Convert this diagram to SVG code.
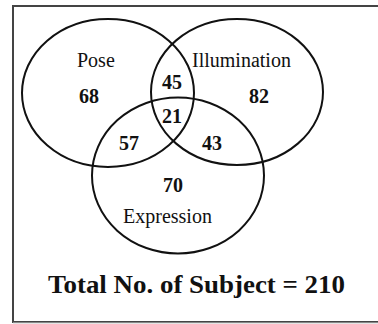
<svg xmlns="http://www.w3.org/2000/svg" width="378" height="324" viewBox="0 0 378 324">
<style>
.c{fill:none;stroke:#111;stroke-width:2}
.l{font-family:"Liberation Serif","Times New Roman",serif;font-size:20px;fill:#111}
.n{font-family:"Liberation Serif","Times New Roman",serif;font-size:20px;font-weight:bold;fill:#111;text-anchor:middle}
.t{font-family:"Liberation Serif","Times New Roman",serif;font-size:26px;font-weight:bold;fill:#111}
</style>
<rect x="0" y="0" width="378" height="324" fill="#fff"/>
<rect id="frame" x="13" y="6" width="380" height="316" fill="none" stroke="#444" stroke-width="2"/>
<line x1="13" y1="323" x2="378" y2="323" stroke="#ccc" stroke-width="1"/>
<g id="connectors"></g>
<g id="pose"><ellipse class="c" cx="108" cy="93" rx="86" ry="74"/><text class="l" x="77" y="67">Pose</text><text class="n" x="89" y="103">68</text></g>
<g id="illumination"><ellipse class="c" cx="237" cy="92" rx="86" ry="73"/><text class="l" x="192" y="67">Illumination</text><text class="n" x="259" y="103">82</text></g>
<g id="expression"><ellipse class="c" cx="178" cy="175.5" rx="86" ry="78"/><text class="l" x="123" y="223">Expression</text><text class="n" x="173" y="192">70</text></g>
<g id="overlaps">
<text class="n" x="172" y="89">45</text>
<text class="n" x="172" y="123">21</text>
<text class="n" x="129" y="150">57</text>
<text class="n" x="212" y="150">43</text>
</g>
<g id="total"><text class="t" x="48" y="293" textLength="297" lengthAdjust="spacingAndGlyphs">Total No. of Subject = 210</text></g>
</svg>
